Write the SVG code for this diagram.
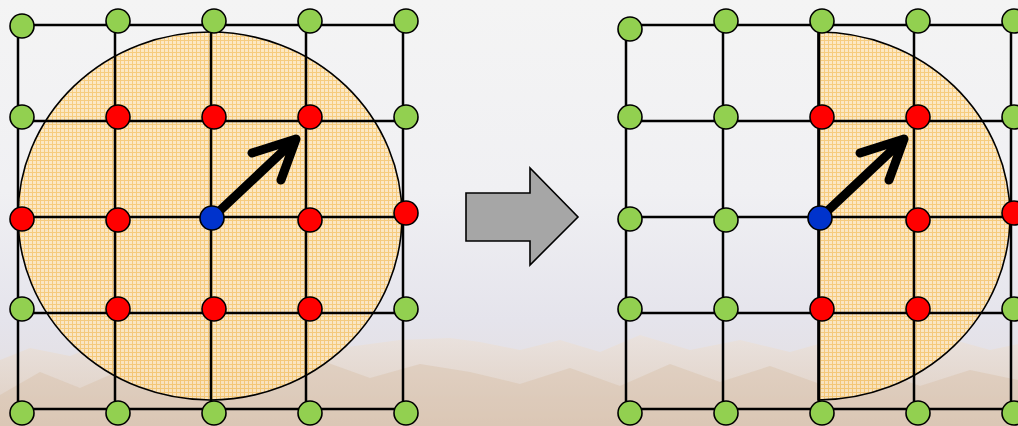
<svg xmlns="http://www.w3.org/2000/svg" width="1018" height="426" viewBox="0 0 1018 426">
  <defs>
    <linearGradient id="sky" x1="0" y1="0" x2="0" y2="1">
      <stop offset="0" stop-color="#f4f4f4"/>
      <stop offset="0.45" stop-color="#f0f0f3"/>
      <stop offset="0.75" stop-color="#e5e4ec"/>
      <stop offset="1" stop-color="#e2dcdc"/>
    </linearGradient>
    <linearGradient id="rock" x1="0" y1="0" x2="0" y2="1">
      <stop offset="0" stop-color="#ece2da"/>
      <stop offset="1" stop-color="#dcc7b4"/>
    </linearGradient>
    <pattern id="weave" width="4" height="4" patternUnits="userSpaceOnUse">
      <rect width="4" height="4" fill="#fde6bd"/>
      <path d="M0 0.5H4M0.5 0V4" stroke="#f6b94e" stroke-width="1" opacity="0.75"/>
    </pattern>
    <style>
      .edge { stroke: #000; stroke-width: 2.5; fill: none; }
      .node { stroke: #000; stroke-width: 1.6; }
      .free { fill: #92d050; }
      .near { fill: #ff0000; }
      .self { fill: #0033cc; }
      .zone { fill: url(#weave); fill-opacity: 0.85; stroke: #000; stroke-width: 1.6; }
      .dir { stroke: #000; stroke-width: 9; fill: none; stroke-linecap: round; stroke-linejoin: round; }
    </style>
  </defs>

  <!-- faded sky and mountain backdrop -->
  <g id="backdrop">
    <rect width="1018" height="426" fill="url(#sky)"/>
    <path d="M0 360 L30 348 L70 356 L110 340 L150 352 L190 338 L240 346 L290 332 L340 348 L400 340 L450 338 L480 342 L520 350 L560 340 L600 352 L640 335 L690 350 L740 340 L790 352 L840 338 L890 348 L940 336 L990 350 L1018 344 L1018 426 L0 426 Z" fill="url(#rock)" opacity="0.7"/>
    <path d="M0 395 L40 372 L80 388 L130 366 L170 384 L220 362 L270 380 L320 360 L370 378 L420 364 L470 372 L520 384 L570 368 L620 386 L670 364 L720 382 L770 366 L820 384 L870 368 L920 386 L970 370 L1018 380 L1018 426 L0 426 Z" fill="#d6bda6" opacity="0.4"/>
  </g>

  <!-- search areas -->
  <ellipse id="area-left" class="zone" cx="210" cy="216" rx="192" ry="184"/>
  <path id="area-right" class="zone" d="M818 32 A192 184 0 0 1 818 400 Z"/>

  <g id="connectors">
    <!-- left grid -->
    <path class="edge" d="M18 25H406M18 121H406M18 217H406M18 313H406M18 409H406"/>
    <path class="edge" d="M18 25V409M115 25V409M211 25V409M306 25V409M403 25V409"/>
    <!-- right grid -->
    <path class="edge" d="M626 25H1018M626 121H1018M626 217H1018M626 313H1018M626 409H1018"/>
    <path class="edge" d="M626 25V409M723 25V409M819 25V409M914 25V409M1011 25V409"/>
  </g>

  <!-- movement direction -->
  <g id="heading-left">
    <path class="dir" d="M212 218L296 139M252 153L296 139L281 180"/>
  </g>
  <g id="heading-right">
    <path class="dir" d="M820 218L904 139M860 153L904 139L889 180"/>
  </g>

  <!-- transition arrow -->
  <g id="transition">
    <polygon points="466,193 530,193 530,168 578,217 530,265 530,241 466,241" fill="#a6a6a6" stroke="#000" stroke-width="1.6"/>
  </g>

  <!-- left grid nodes -->
  <g id="left-nodes">
    <circle id="L00" class="node free" cx="22" cy="26" r="12"/>
    <circle id="L01" class="node free" cx="118" cy="21" r="12"/>
    <circle id="L02" class="node free" cx="214" cy="21" r="12"/>
    <circle id="L03" class="node free" cx="310" cy="21" r="12"/>
    <circle id="L04" class="node free" cx="406" cy="21" r="12"/>
    <circle id="L10" class="node free" cx="22" cy="117" r="12"/>
    <circle id="L11" class="node near" cx="118" cy="117" r="12"/>
    <circle id="L12" class="node near" cx="214" cy="117" r="12"/>
    <circle id="L13" class="node near" cx="310" cy="117" r="12"/>
    <circle id="L14" class="node free" cx="406" cy="117" r="12"/>
    <circle id="L20" class="node near" cx="22" cy="219" r="12"/>
    <circle id="L21" class="node near" cx="118" cy="220" r="12"/>
    <circle id="L22" class="node self" cx="212" cy="218" r="12"/>
    <circle id="L23" class="node near" cx="310" cy="220" r="12"/>
    <circle id="L24" class="node near" cx="406" cy="213" r="12"/>
    <circle id="L30" class="node free" cx="22" cy="309" r="12"/>
    <circle id="L31" class="node near" cx="118" cy="309" r="12"/>
    <circle id="L32" class="node near" cx="214" cy="309" r="12"/>
    <circle id="L33" class="node near" cx="310" cy="309" r="12"/>
    <circle id="L34" class="node free" cx="406" cy="309" r="12"/>
    <circle id="L40" class="node free" cx="22" cy="413" r="12"/>
    <circle id="L41" class="node free" cx="118" cy="413" r="12"/>
    <circle id="L42" class="node free" cx="214" cy="413" r="12"/>
    <circle id="L43" class="node free" cx="310" cy="413" r="12"/>
    <circle id="L44" class="node free" cx="406" cy="413" r="12"/>
  </g>

  <!-- right grid nodes -->
  <g id="right-nodes">
    <circle id="R00" class="node free" cx="630" cy="29" r="12"/>
    <circle id="R01" class="node free" cx="726" cy="21" r="12"/>
    <circle id="R02" class="node free" cx="822" cy="21" r="12"/>
    <circle id="R03" class="node free" cx="918" cy="21" r="12"/>
    <circle id="R04" class="node free" cx="1014" cy="21" r="12"/>
    <circle id="R10" class="node free" cx="630" cy="117" r="12"/>
    <circle id="R11" class="node free" cx="726" cy="117" r="12"/>
    <circle id="R12" class="node near" cx="822" cy="117" r="12"/>
    <circle id="R13" class="node near" cx="918" cy="117" r="12"/>
    <circle id="R14" class="node free" cx="1014" cy="117" r="12"/>
    <circle id="R20" class="node free" cx="630" cy="219" r="12"/>
    <circle id="R21" class="node free" cx="726" cy="220" r="12"/>
    <circle id="R22" class="node self" cx="820" cy="218" r="12"/>
    <circle id="R23" class="node near" cx="918" cy="220" r="12"/>
    <circle id="R24" class="node near" cx="1014" cy="213" r="12"/>
    <circle id="R30" class="node free" cx="630" cy="309" r="12"/>
    <circle id="R31" class="node free" cx="726" cy="309" r="12"/>
    <circle id="R32" class="node near" cx="822" cy="309" r="12"/>
    <circle id="R33" class="node near" cx="918" cy="309" r="12"/>
    <circle id="R34" class="node free" cx="1014" cy="309" r="12"/>
    <circle id="R40" class="node free" cx="630" cy="413" r="12"/>
    <circle id="R41" class="node free" cx="726" cy="413" r="12"/>
    <circle id="R42" class="node free" cx="822" cy="413" r="12"/>
    <circle id="R43" class="node free" cx="918" cy="413" r="12"/>
    <circle id="R44" class="node free" cx="1014" cy="413" r="12"/>
  </g>
</svg>
